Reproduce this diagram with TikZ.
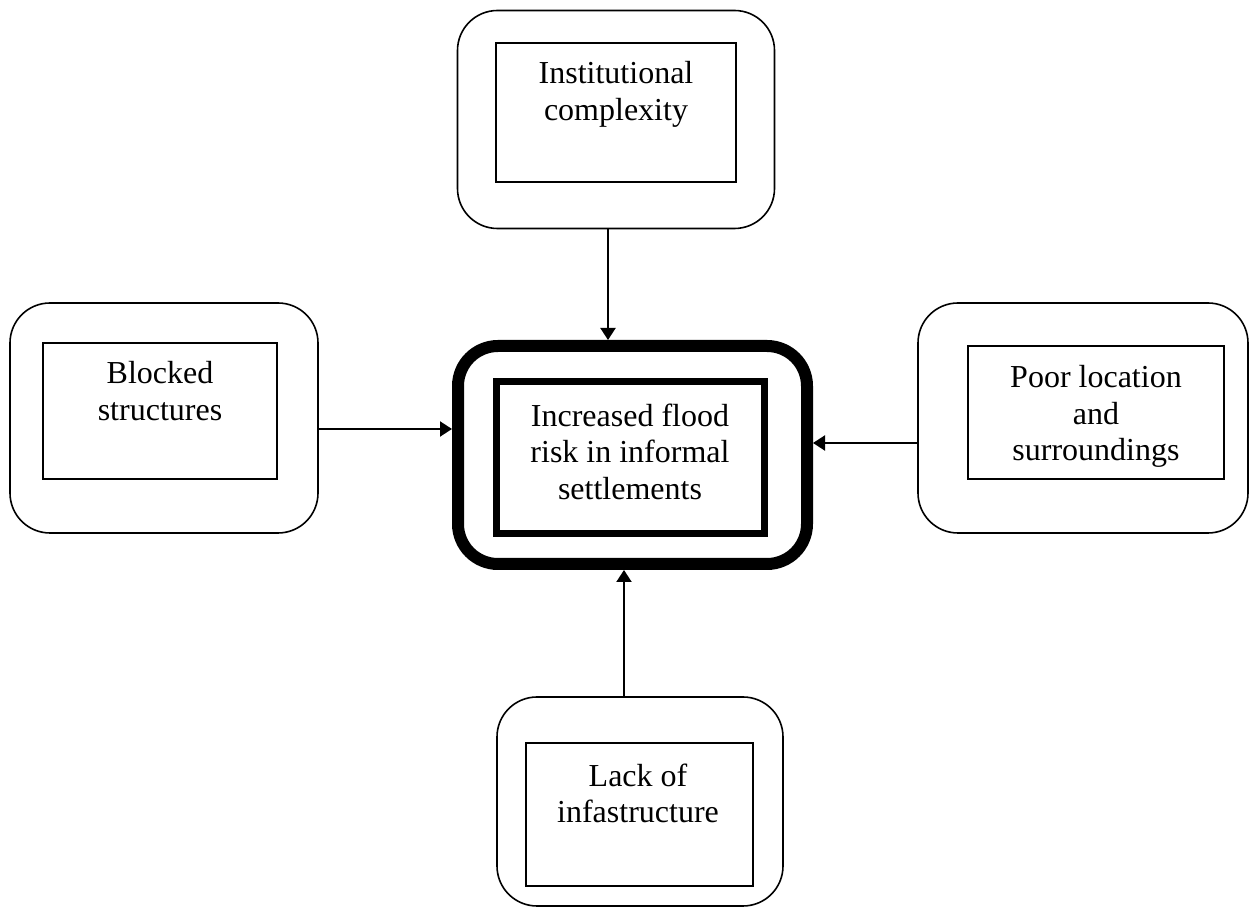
\documentclass[tikz,border=0pt]{standalone}
\usepackage{fontspec}
\setmainfont{Liberation Serif}
\usetikzlibrary{arrows.meta}
\begin{document}
\begin{tikzpicture}[x=0.5pt,y=-0.5pt,
  outerbox/.style={draw,rectangle,rounded corners=20pt,line width=0.8pt,inner sep=0pt},
  innerbox/.style={draw,rectangle,line width=0.8pt,inner sep=0pt},
  centerouter/.style={draw,rectangle,rounded corners=20pt,line width=6pt,inner sep=0pt},
  centerinner/.style={draw,rectangle,line width=3.5pt,inner sep=0pt},
  label/.style={anchor=north,yshift=10.9pt,inner sep=0pt,align=center,
    font={\fontsize{16pt}{18.3pt}\selectfont}},
  arr/.style={-{Triangle[length=6pt,width=7.5pt]},line width=1pt}]
\useasboundingbox (0,0) rectangle (1250,908);
% top
\node[outerbox,minimum width=158.5pt,minimum height=109pt] (topO) at (616,119.5) {};
\node[innerbox,minimum width=120pt,minimum height=69.5pt] (topI) at (616,112.5) {};
\node[label] (topT) at (616,83) {Institutional\\complexity};
% left
\node[outerbox,minimum width=154pt,minimum height=115pt] (leftO) at (164,418) {};
\node[innerbox,minimum width=117pt,minimum height=68pt] (leftI) at (160,411) {};
\node[label] (leftT) at (160,383) {Blocked\\structures};
% right
\node[outerbox,minimum width=165pt,minimum height=115pt] (rightO) at (1083,418) {};
\node[innerbox,minimum width=128pt,minimum height=66.5pt] (rightI) at (1096,412.5) {};
\node[label] (rightT) at (1096,387) {Poor location\\and\\surroundings};
% center
\node[centerouter,minimum width=174.5pt,minimum height=109pt] (ctrO) at (632.5,455) {};
\node[centerinner,minimum width=134pt,minimum height=76pt] (ctrI) at (630.5,457.5) {};
\node[label] (ctrT) at (630,425) {Increased flood\\risk in informal\\settlements};
% bottom
\node[outerbox,minimum width=143pt,minimum height=104.5pt] (botO) at (640,801.5) {};
\node[innerbox,minimum width=113.5pt,minimum height=71.5pt] (botI) at (639.5,814.5) {};
\node[label] (botT) at (638,785) {Lack of\\infastructure};
% connectors
\coordinate (ax) at (608,0);
\coordinate (bx) at (624,0);
\coordinate (ly) at (0,429);
\coordinate (ry) at (0,443);
\draw[arr] (topO.south -| ax) -- (ctrO.north -| ax);
\draw[arr] (botO.north -| bx) -- (ctrO.south -| bx);
\draw[arr] (leftO.east |- ly) -- (ctrO.west |- ly);
\draw[arr] (rightO.west |- ry) -- (ctrO.east |- ry);
\end{tikzpicture}
\end{document}
